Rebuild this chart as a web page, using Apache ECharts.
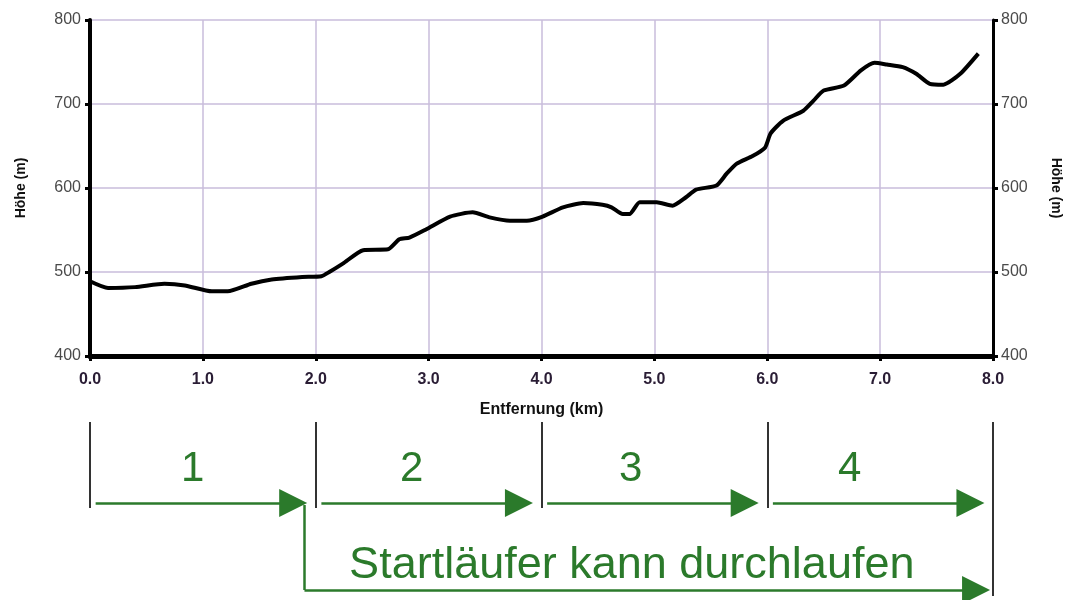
<!DOCTYPE html>
<html>
<head>
<meta charset="utf-8">
<script src="https://cdn.jsdelivr.net/npm/echarts@6/dist/echarts.min.js"></script>
<style>
  html, body { margin: 0; padding: 0; background: #fff; }
  #chart { width: 1081px; height: 600px; }
</style>
</head>
<body>
<div id="chart"></div>
<script>
/* Höhenprofil */
const distKm = [0, 0.16, 0.4, 0.66, 0.84, 1.08, 1.22, 1.43, 1.61, 1.88, 2.05, 2.12, 2.24, 2.42, 2.64, 2.74, 2.83, 2.98, 3.19, 3.39, 3.54, 3.72, 3.87, 4.01, 4.19, 4.37, 4.54, 4.62, 4.72, 4.78, 4.87, 5.02, 5.16, 5.28, 5.37, 5.55, 5.64, 5.73, 5.87, 5.98, 6.03, 6.14, 6.32, 6.41, 6.5, 6.68, 6.83, 6.95, 7.06, 7.2, 7.32, 7.44, 7.56, 7.71, 7.87];
const heightM = [489, 481, 482, 486, 484, 477, 477, 486, 491, 494, 495, 500, 510, 526, 527, 539, 541, 551, 566, 571, 565, 561, 561, 566, 577, 582, 580, 577, 569, 569, 583, 583, 579, 589, 598, 603, 617, 629, 638, 648, 665, 680, 692, 704, 716, 722, 740, 749, 747, 744, 736, 724, 723, 736, 760];

/* Etappen */
const legStart = [0, 2, 4, 6];
const legEnd = [2, 4, 6, 8];
const legLabels = ['1', '2', '3', '4'];
const passStart = 2;
const passEnd = 8;
const passText = 'Startläufer kann durchlaufen';

/* Layout der unteren Skizze (Pixel-Abstand unter grid-top) */
const tickTop = 12, tickBottom = 98, arrowY = 93, digitY = 59, textY = 156, bracketY = 180, longBottom = 186;
const gapStart = 0.05, gapTip = 0.08, headBack = 0.12;

const green = '#2b7a2b';
const font = '"Liberation Sans", Arial, sans-serif';

const profile = distKm.map((d, i) => [d, heightM[i]]);

const ticks = legStart.map(s => ({ coords: [[s, tickTop], [s, tickBottom]] }));
ticks.push({ coords: [[passEnd, tickTop], [passEnd, longBottom]] });

const arrows = legStart.map((s, i) => ({
  coords: [[s + gapStart, arrowY], [legEnd[i] - gapTip - headBack, arrowY]]
}));
// Umweg des Startläufers
const bracketX = passStart - gapTip - 0.02;
arrows.push({ coords: [[bracketX, bracketY], [passEnd - 0.03 - headBack, bracketY]] });

const digits = legStart.map((s, i) => ({
  value: [(s + legEnd[i]) / 2 - 0.09 - 0.06 * i, digitY],
  label: legLabels[i]
}));

const chart = echarts.init(document.getElementById('chart'));
const option = {
  animation: false,
  backgroundColor: '#fff',
  grid: [
    { left: 90, right: 88, top: 20, bottom: 244 },
    { left: 90, right: 88, top: 410, bottom: 0 }
  ],
  xAxis: [
    {
      type: 'value', gridIndex: 0, min: 0, max: 8, interval: 1,
      name: 'Entfernung (km)', nameLocation: 'middle', nameGap: 46,
      nameTextStyle: { fontFamily: font, fontWeight: 'bold', fontSize: 16, color: '#111' },
      axisLine: { lineStyle: { color: '#000', width: 5 } },
      axisTick: { show: true, length: 5, lineStyle: { color: '#000', width: 3 } },
      axisLabel: {
        formatter: v => v.toFixed(1), margin: 16,
        fontFamily: font, fontWeight: 'bold', fontSize: 16, color: '#2a1d35'
      },
      splitLine: { lineStyle: { color: '#c9bcdb', width: 1.5 } }
    },
    { type: 'value', gridIndex: 1, min: 0, max: 8, show: false }
  ],
  yAxis: [
    {
      type: 'value', gridIndex: 0, min: 400, max: 800, interval: 100,
      name: 'Höhe (m)', nameLocation: 'middle', nameGap: 62, nameRotate: 90,
      nameTextStyle: { fontFamily: font, fontWeight: 'bold', fontSize: 14, color: '#111' },
      axisLine: { show: true, lineStyle: { color: '#000', width: 4 } },
      axisTick: { show: true, length: 5, lineStyle: { color: '#000', width: 3 } },
      axisLabel: { fontFamily: font, fontSize: 16, color: '#4a4a4a', margin: 9 },
      splitLine: { lineStyle: { color: '#c9bcdb', width: 1.5 } }
    },
    {
      type: 'value', gridIndex: 0, position: 'right', min: 400, max: 800, interval: 100,
      name: 'Höhe (m)', nameLocation: 'middle', nameGap: 56, nameRotate: -90,
      nameTextStyle: { fontFamily: font, fontWeight: 'bold', fontSize: 14, color: '#111' },
      axisLine: { show: true, lineStyle: { color: '#000', width: 3 } },
      axisTick: { show: true, length: 5, lineStyle: { color: '#000', width: 3 } },
      axisLabel: { fontFamily: font, fontSize: 16, color: '#4a4a4a', margin: 8 },
      splitLine: { show: false }
    },
    { type: 'value', gridIndex: 1, min: 0, max: 190, inverse: true, show: false }
  ],
  series: [
    {
      type: 'line', xAxisIndex: 0, yAxisIndex: 0,
      data: profile, smooth: 0.2, showSymbol: false,
      lineStyle: { color: '#000', width: 4 }
    },
    {
      type: 'lines', coordinateSystem: 'cartesian2d', xAxisIndex: 1, yAxisIndex: 2,
      data: ticks, symbol: 'none',
      lineStyle: { color: '#333', width: 2, opacity: 1 }
    },
    {
      type: 'lines', coordinateSystem: 'cartesian2d', xAxisIndex: 1, yAxisIndex: 2,
      data: [{ coords: [[bracketX, arrowY + 2], [bracketX, bracketY]] }], symbol: 'none',
      lineStyle: { color: green, width: 2.5, opacity: 1 }
    },
    {
      type: 'lines', coordinateSystem: 'cartesian2d', xAxisIndex: 1, yAxisIndex: 2,
      data: arrows, symbol: ['none', 'triangle'], symbolSize: [22, 28],
      lineStyle: { color: green, width: 2.5, opacity: 1 }
    },
    {
      type: 'scatter', xAxisIndex: 1, yAxisIndex: 2,
      data: digits, symbolSize: 1, itemStyle: { color: 'rgba(0,0,0,0)', opacity: 1 },
      label: {
        show: true, position: 'inside', formatter: p => p.data.label,
        fontFamily: font, fontSize: 42, color: green
      }
    },
    {
      type: 'scatter', xAxisIndex: 1, yAxisIndex: 2,
      data: [[(passStart + passEnd) / 2 - 0.2, textY]], symbolSize: 1,
      itemStyle: { color: 'rgba(0,0,0,0)', opacity: 1 },
      label: {
        show: true, position: 'inside', formatter: passText,
        fontFamily: font, fontSize: 45, color: green
      }
    }
  ]
};
chart.setOption(option);
</script>
</body>
</html>
